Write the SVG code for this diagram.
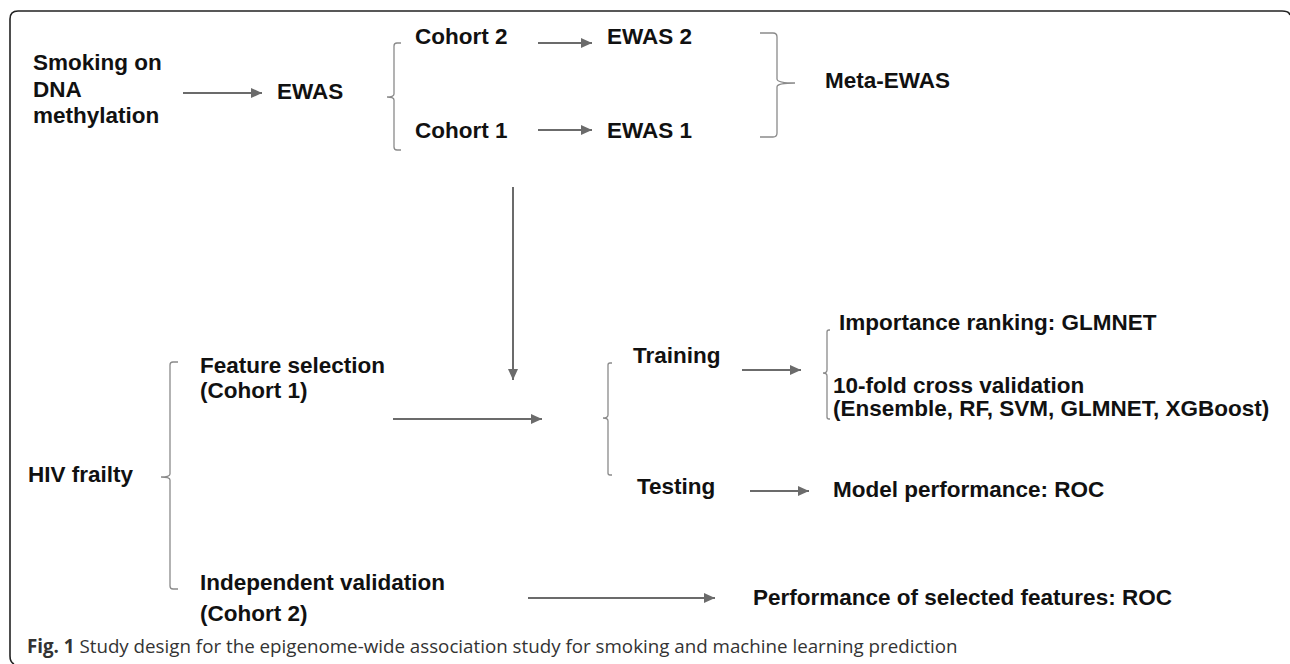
<svg xmlns="http://www.w3.org/2000/svg" width="1290" height="664" viewBox="0 0 1290 664">
<defs>
<style>
.t{font-family:"Liberation Sans",Arial,sans-serif;font-weight:bold;font-size:22.5px;fill:#111}
.cap{font-family:"Open Sans","Noto Sans",sans-serif;font-size:18.75px;fill:#333}
.arr{stroke:#6b6b6b;stroke-width:2;fill:none;marker-end:url(#ah)}
.br{stroke:#8a8a8a;stroke-width:1.3;fill:none}
</style>
<marker id="ah" markerUnits="userSpaceOnUse" markerWidth="12" markerHeight="10" refX="11" refY="5" orient="auto">
<path d="M0,0 L11,5 L0,10 z" fill="#6b6b6b"/>
</marker>
</defs>
<rect width="1290" height="664" fill="#fff"/>
<path d="M14,664 Q10,662 10,656 V19 Q10,11 18,11 H1282 Q1289,11 1290,15" stroke="#222" stroke-width="1.6" fill="none"/>

<g id="connectors">
<line class="arr" x1="183" y1="93" x2="262" y2="93"/>
<line class="arr" x1="538" y1="43" x2="592" y2="43"/>
<line class="arr" x1="538" y1="130" x2="592" y2="130"/>
<line class="arr" x1="513" y1="187" x2="513" y2="380"/>
<line class="arr" x1="393" y1="419" x2="542" y2="419"/>
<line class="arr" x1="742" y1="370" x2="801" y2="370"/>
<line class="arr" x1="750" y1="491" x2="809" y2="491"/>
<line class="arr" x1="528" y1="598" x2="715" y2="598"/>
</g>

<g id="brackets">
<path class="br" d="M401,43 H397 Q394,43 394,46 V94 Q394,97 387,97 Q394,97 394,100 V147 Q394,150 397,150 H401"/>
<path class="br" d="M760,33 H773 Q777,33 777,37 V79 Q777,83 795,83 Q777,83 777,87 V133 Q777,137 773,137 H760"/>
<path class="br" d="M178,362 H173 Q170,362 170,365 V474 Q170,477 161,477 Q170,477 170,480 V586 Q170,589 173,589 H178"/>
<path class="br" d="M612,363 H610 Q608,363 608,365 V415 Q608,418 603,418 Q608,418 608,421 V473 Q608,475 610,475 H612"/>
<path class="br" d="M830,330 H829 Q827,330 827,332 V370 Q827,373 823,373 Q827,373 827,376 V417 Q827,419 829,419 H830"/>
</g>

<g id="smoking"><text class="t" x="33" y="70">Smoking on</text><text class="t" x="33" y="97">DNA</text><text class="t" x="33" y="123">methylation</text></g>
<g id="ewas"><text class="t" x="277" y="99">EWAS</text></g>
<g id="cohort2"><text class="t" x="415" y="44">Cohort 2</text></g>
<g id="ewas2"><text class="t" x="607" y="44">EWAS 2</text></g>
<g id="cohort1"><text class="t" x="415" y="138">Cohort 1</text></g>
<g id="ewas1"><text class="t" x="607" y="138">EWAS 1</text></g>
<g id="meta"><text class="t" x="825" y="88">Meta-EWAS</text></g>
<g id="hiv"><text class="t" x="28" y="482">HIV frailty</text></g>
<g id="feature"><text class="t" x="200" y="373">Feature selection</text><text class="t" x="200" y="398">(Cohort 1)</text></g>
<g id="independent"><text class="t" x="200" y="590">Independent validation</text><text class="t" x="200" y="621">(Cohort 2)</text></g>
<g id="training"><text class="t" x="633" y="363">Training</text></g>
<g id="testing"><text class="t" x="637" y="494">Testing</text></g>
<g id="importance"><text class="t" x="839" y="330">Importance ranking: GLMNET</text></g>
<g id="cv"><text class="t" x="833" y="393">10-fold cross validation</text><text class="t" x="833" y="416">(Ensemble, RF, SVM, GLMNET, XGBoost)</text></g>
<g id="model"><text class="t" x="833" y="497">Model performance: ROC</text></g>
<g id="perf"><text class="t" x="753" y="605">Performance of selected features: ROC</text></g>
<g id="caption"><text class="cap" x="27" y="653"><tspan font-weight="bold">Fig. 1</tspan> Study design for the epigenome-wide association study for smoking and machine learning prediction</text></g>
</svg>
